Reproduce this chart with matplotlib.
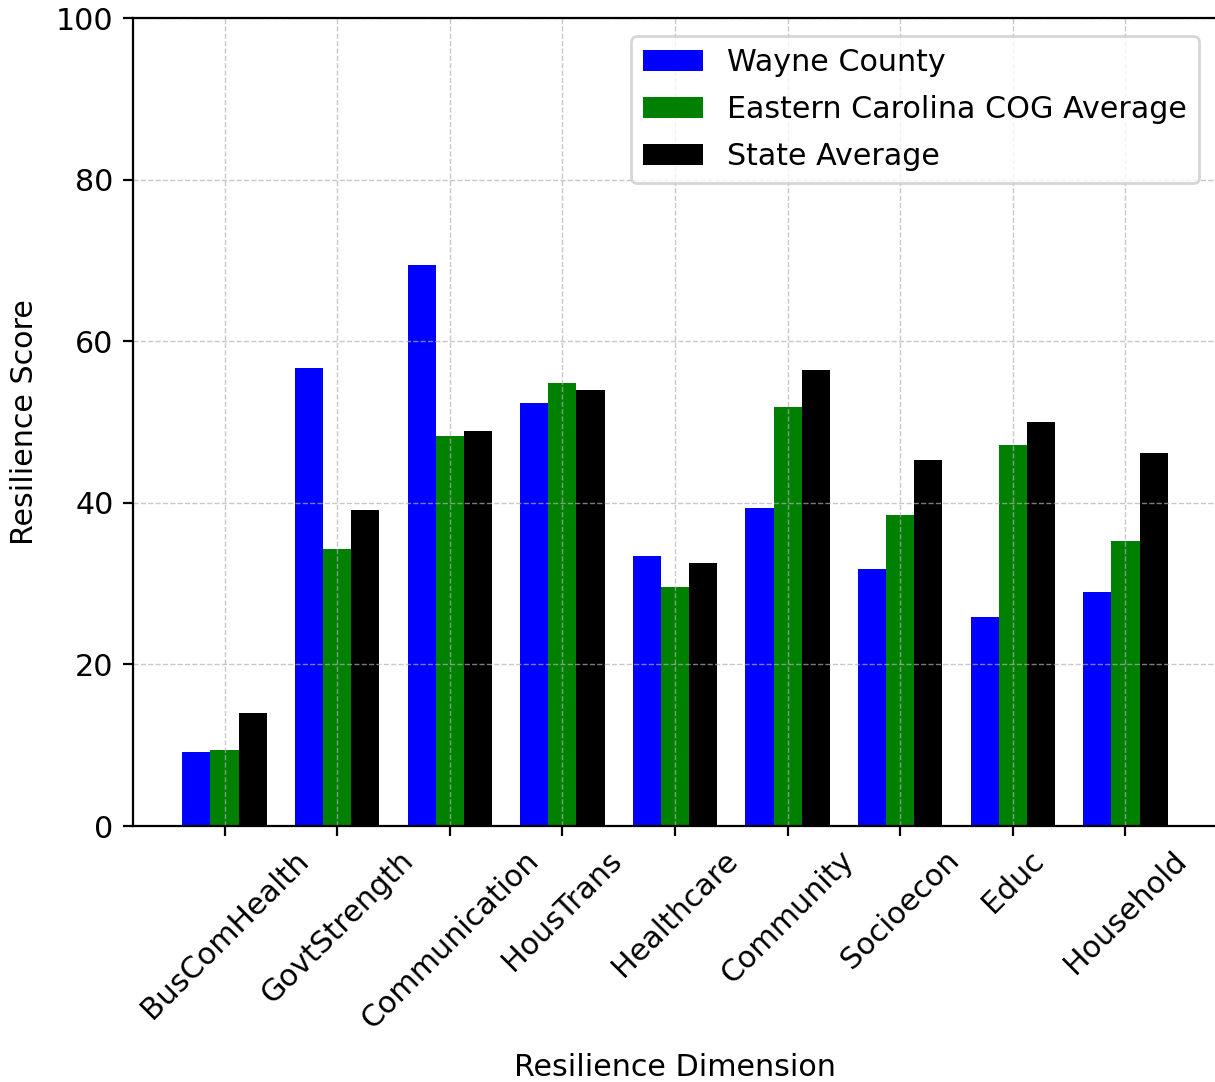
import numpy as np
import matplotlib
matplotlib.use("Agg")
import matplotlib.pyplot as plt

# data
dimensions = ["BusComHealth", "GovtStrength", "Communication", "HousTrans",
              "Healthcare", "Community", "Socioecon", "Educ", "Household"]
wayne = [9.1, 56.7, 69.4, 52.4, 33.4, 39.4, 31.8, 25.9, 28.9]
eccog = [9.4, 34.3, 48.3, 54.8, 29.6, 51.9, 38.5, 47.2, 35.3]
state = [14.0, 39.1, 48.9, 54.0, 32.5, 56.4, 45.3, 50.0, 46.2]

plt.rc("font", size=10.85)

dpi = 200
fig = plt.figure(figsize=(1215 / dpi, 1082 / dpi), dpi=dpi)
ax = fig.add_axes([133 / 1215, 1 - 826 / 1082, 1084 / 1215, 808 / 1082])

x = np.arange(len(dimensions))
w = 0.25
ax.bar(x - w, wayne, w, color="blue", label="Wayne County")
ax.bar(x, eccog, w, color="green", label="Eastern Carolina COG Average")
ax.bar(x + w, state, w, color="black", label="State Average")

ax.set_ylim(0, 100)
ax.set_xticks(x)
ax.set_xticklabels(dimensions, rotation=45)
ax.set_xlabel("Resilience Dimension", labelpad=7)
ax.set_ylabel("Resilience Score", labelpad=6)
ax.grid(True, linestyle="--", linewidth=0.5, alpha=0.7)
ax.spines["right"].set_visible(False)  # reference is cut at the right edge
ax.legend(loc="upper right", labelspacing=0.6, borderaxespad=0.6)

fig.savefig("out.png", dpi=dpi)
